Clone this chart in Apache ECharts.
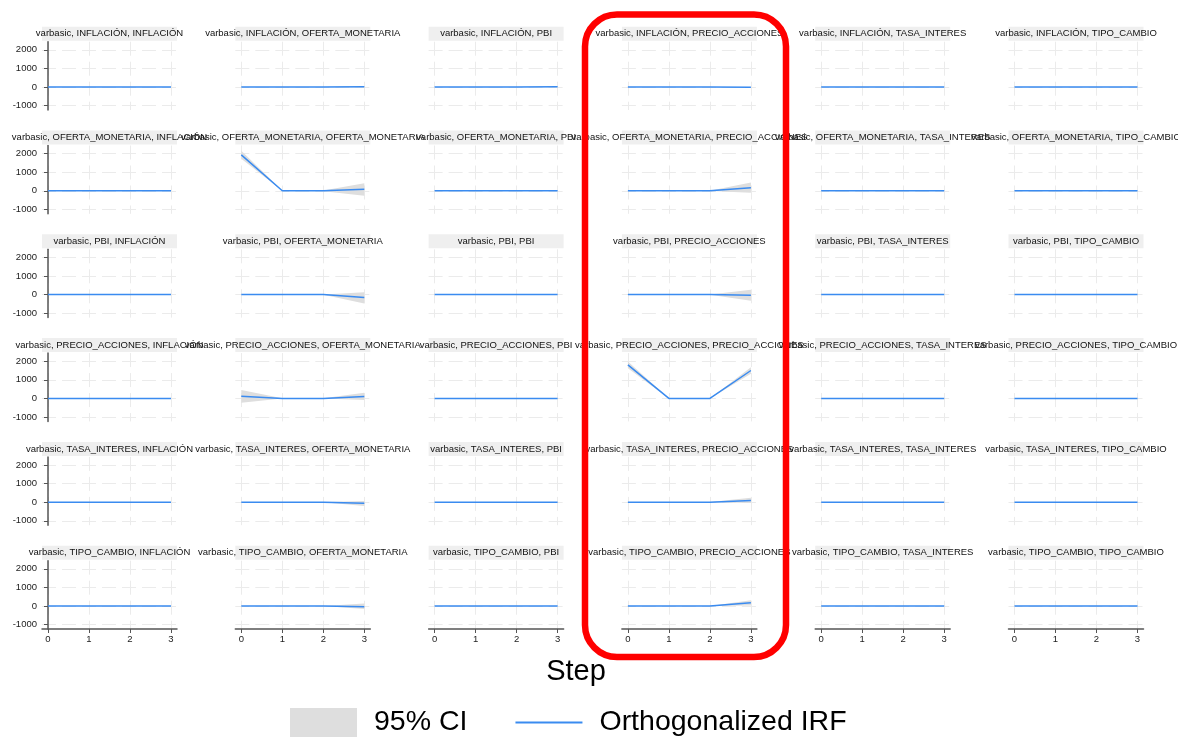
<!DOCTYPE html>
<html>
<head>
<meta charset="utf-8">
<script src="https://cdn.jsdelivr.net/npm/echarts@6/dist/echarts.min.js"></script>
<style>
  html, body { margin: 0; padding: 0; background: #fff; }
  #irfchart { width: 1178px; height: 737px; }
</style>
</head>
<body>
<div id="irfchart"></div>
<script>
// variables of the VAR, impulse = row, response = column
const variables = ['INFLACIÓN', 'OFERTA_MONETARIA', 'PBI', 'PRECIO_ACCIONES', 'TASA_INTERES', 'TIPO_CAMBIO']
const steps = [0, 1, 2, 3]
const yTicks = [-1000, 0, 1000, 2000]

// orthogonalized IRF, one row per panel (impulse, response), row-major
const irfValues = [
  [0, 0, 0, 0], [0, 0, 0, 15], [0, 0, 0, 10], [0, 0, 0, -10], [0, 0, 0, 0], [0, 0, 0, 0],
  [0, 0, 0, 0], [1930, 0, 0, 80], [0, 0, 0, 0], [0, 0, 0, 170], [0, 0, 0, 0], [0, 0, 0, 0],
  [0, 0, 0, 0], [0, 0, 0, -160], [0, 0, 0, 0], [0, 0, 0, -30], [0, 0, 0, 0], [0, 0, 0, 0],
  [0, 0, 0, 0], [110, 0, 0, 100], [0, 0, 0, 0], [1800, 0, 0, 1500], [0, 0, 0, 0], [0, 0, 0, 0],
  [0, 0, 0, 0], [0, 0, 0, -50], [0, 0, 0, 0], [0, 0, 0, 90], [0, 0, 0, 0], [0, 0, 0, 0],
  [0, 0, 0, 0], [0, 0, 0, -40], [0, 0, 0, 0], [0, 0, 0, 170], [0, 0, 0, 0], [0, 0, 0, 0]
]
// 95% CI lower bound
const ciLower = [
  [0, 0, 0, -3], [0, 0, -5, -20], [0, 0, -3, -15], [0, 0, -3, -25], [0, 0, 0, -3], [0, 0, 0, -3],
  [0, 0, 0, -3], [1720, 0, -20, -260], [0, 0, 0, -3], [0, 0, -5, -100], [0, 0, 0, -3], [0, 0, 0, -3],
  [0, 0, 0, -3], [0, 0, -5, -480], [0, 0, 0, -3], [0, 0, -5, -330], [0, 0, 0, -3], [0, 0, 0, -3],
  [0, 0, 0, -3], [-240, -5, -5, -90], [0, 0, 0, -3], [1620, 0, 0, 1330], [0, 0, 0, -3], [0, 0, 0, -3],
  [0, 0, 0, -3], [0, 0, -5, -210], [0, 0, 0, -3], [0, 0, -5, -40], [0, 0, 0, -3], [0, 0, 0, -3],
  [0, 0, 0, -3], [0, 0, -5, -160], [0, 0, 0, -3], [0, 0, -5, 30], [0, 0, 0, -3], [0, 0, 0, -3]
]
// 95% CI upper bound
const ciUpper = [
  [0, 0, 0, 3], [0, 0, 5, 50], [0, 0, 3, 35], [0, 0, 3, 5], [0, 0, 0, 3], [0, 0, 0, 3],
  [0, 0, 0, 3], [2150, 0, 20, 400], [0, 0, 0, 3], [0, 0, 5, 450], [0, 0, 0, 3], [0, 0, 0, 3],
  [0, 0, 0, 3], [0, 0, 5, 120], [0, 0, 0, 3], [0, 0, 5, 260], [0, 0, 0, 3], [0, 0, 0, 3],
  [0, 0, 0, 3], [450, 5, 5, 300], [0, 0, 0, 3], [1980, 0, 0, 1680], [0, 0, 0, 3], [0, 0, 0, 3],
  [0, 0, 0, 3], [0, 0, 5, 70], [0, 0, 0, 3], [0, 0, 5, 240], [0, 0, 0, 3], [0, 0, 0, 3],
  [0, 0, 0, 3], [0, 0, 5, 140], [0, 0, 0, 3], [0, 0, 5, 310], [0, 0, 0, 3], [0, 0, 0, 3]
]

const FONT = 'Liberation Sans'
const gridColor = '#ebebeb'

// CI band drawn as one polygon through the lower bounds and back over the upper ones
function renderBand(params, api) {
  if (params.dataIndexInside !== 0) return
  var len = params.dataInsideLength
  var pts = []
  for (var k = 0; k < len; k++) pts.push(api.coord([api.value(0, k), api.value(1, k)]))
  for (var k2 = len - 1; k2 >= 0; k2--) pts.push(api.coord([api.value(0, k2), api.value(2, k2)]))
  return {
    type: 'polygon',
    shape: { points: pts },
    style: { fill: '#dedede' },
    silent: true
  }
}

function buildOption() {
  var n = variables.length
  var colW = 193.3, rowH = 103.8
  var boxW = 135, boxH = 68.3
  var grids = [], xAxes = [], yAxes = [], series = [], titles = []

  for (var r = 0; r < n; r++) {
    for (var c = 0; c < n; c++) {
      var i = r * n + c
      var gLeft = 42 + c * colW
      var gTop = 41.7 + r * rowH
      var isLeft = c === 0
      var isBottom = r === n - 1

      grids.push({ left: gLeft, top: gTop, width: boxW, height: boxH })

      // panel title on a fixed width grey strip, text centred (may spill over)
      titles.push({
        text: '{s|varbasic, ' + variables[r] + ', ' + variables[c] + '}',
        left: gLeft, top: gTop - 15, padding: 0,
        textStyle: {
          overflow: 'none', fontWeight: 'normal',
          rich: {
            s: {
              width: boxW, height: 14, lineHeight: 14, align: 'center', backgroundColor: '#efefef',
              fontSize: 9.5, fontWeight: 'normal', color: '#111', fontFamily: FONT
            }
          }
        }
      })

      xAxes.push({
        gridIndex: i, type: 'value', min: -0.146, max: 3.146,
        axisLine: { show: isBottom, onZero: false, lineStyle: { color: '#555', width: 1.5 } },
        axisTick: { show: isBottom, customValues: steps, length: 4, lineStyle: { color: '#555' } },
        axisLabel: { show: isBottom, customValues: steps, fontSize: 9.5, color: '#222', fontFamily: FONT, margin: 5 },
        splitLine: { show: true, lineStyle: { color: gridColor, width: 1, type: [14, 6] } }
      })
      yAxes.push({
        gridIndex: i, type: 'value', min: -1236, max: 2435,
        axisLine: { show: isLeft, lineStyle: { color: '#555', width: 1.5 } },
        axisTick: { show: isLeft, customValues: yTicks, length: 4, lineStyle: { color: '#555' } },
        axisLabel: {
          show: isLeft, customValues: yTicks, fontSize: 9.5, color: '#222', fontFamily: FONT, margin: 5,
          formatter: function (v) { return String(v) }
        },
        splitLine: { show: true, lineStyle: { color: gridColor, width: 1, type: [14, 6] } }
      })

      series.push({
        name: '95% CI', type: 'custom', xAxisIndex: i, yAxisIndex: i,
        renderItem: renderBand, silent: true, z: 2,
        itemStyle: { color: '#dedede' },
        encode: { x: 0, y: [1, 2] },
        data: steps.map(function (s, k) { return [s, ciLower[i][k], ciUpper[i][k]] })
      })
      series.push({
        name: 'Orthogonalized IRF', type: 'line', xAxisIndex: i, yAxisIndex: i,
        symbol: 'none', silent: true,
        lineStyle: { color: '#3a8bf0', width: 1.5 }, itemStyle: { color: '#3a8bf0' },
        data: steps.map(function (s, k) { return [s, irfValues[i][k]] }), z: 3
      })
    }
  }

  titles.push({
    text: 'Step', left: 576, top: 657, textAlign: 'center', padding: 0,
    textStyle: { fontSize: 29, fontWeight: 'normal', color: '#000', fontFamily: FONT }
  })

  return {
    animation: false,
    backgroundColor: '#fff',
    title: titles,
    grid: grids,
    xAxis: xAxes,
    yAxis: yAxes,
    legend: {
      left: 290, top: 708, padding: 0,
      itemWidth: 67, itemHeight: 29, itemGap: 47,
      selectedMode: false,
      textStyle: { fontSize: 28.5, color: '#000', fontFamily: FONT, padding: [0, 0, 0, 12] },
      data: [
        { name: '95% CI', icon: 'rect', itemStyle: { color: '#dedede' } },
        {
          name: 'Orthogonalized IRF',
          itemStyle: { color: 'rgba(0,0,0,0)', borderColor: 'rgba(0,0,0,0)', borderWidth: 0 },
          lineStyle: { color: '#3a8bf0', width: 2 }
        }
      ]
    },
    // red highlight around the PRECIO_ACCIONES column
    graphic: {
      elements: [{
        type: 'rect', z: 100, silent: true,
        shape: { x: 585, y: 14.5, width: 201, height: 642.5, r: 32 },
        style: { fill: 'none', stroke: '#ff0000', lineWidth: 6.5 }
      }]
    },
    series: series
  }
}

var myChart = echarts.init(document.getElementById('irfchart'))
myChart.setOption(buildOption())
</script>
</body>
</html>
